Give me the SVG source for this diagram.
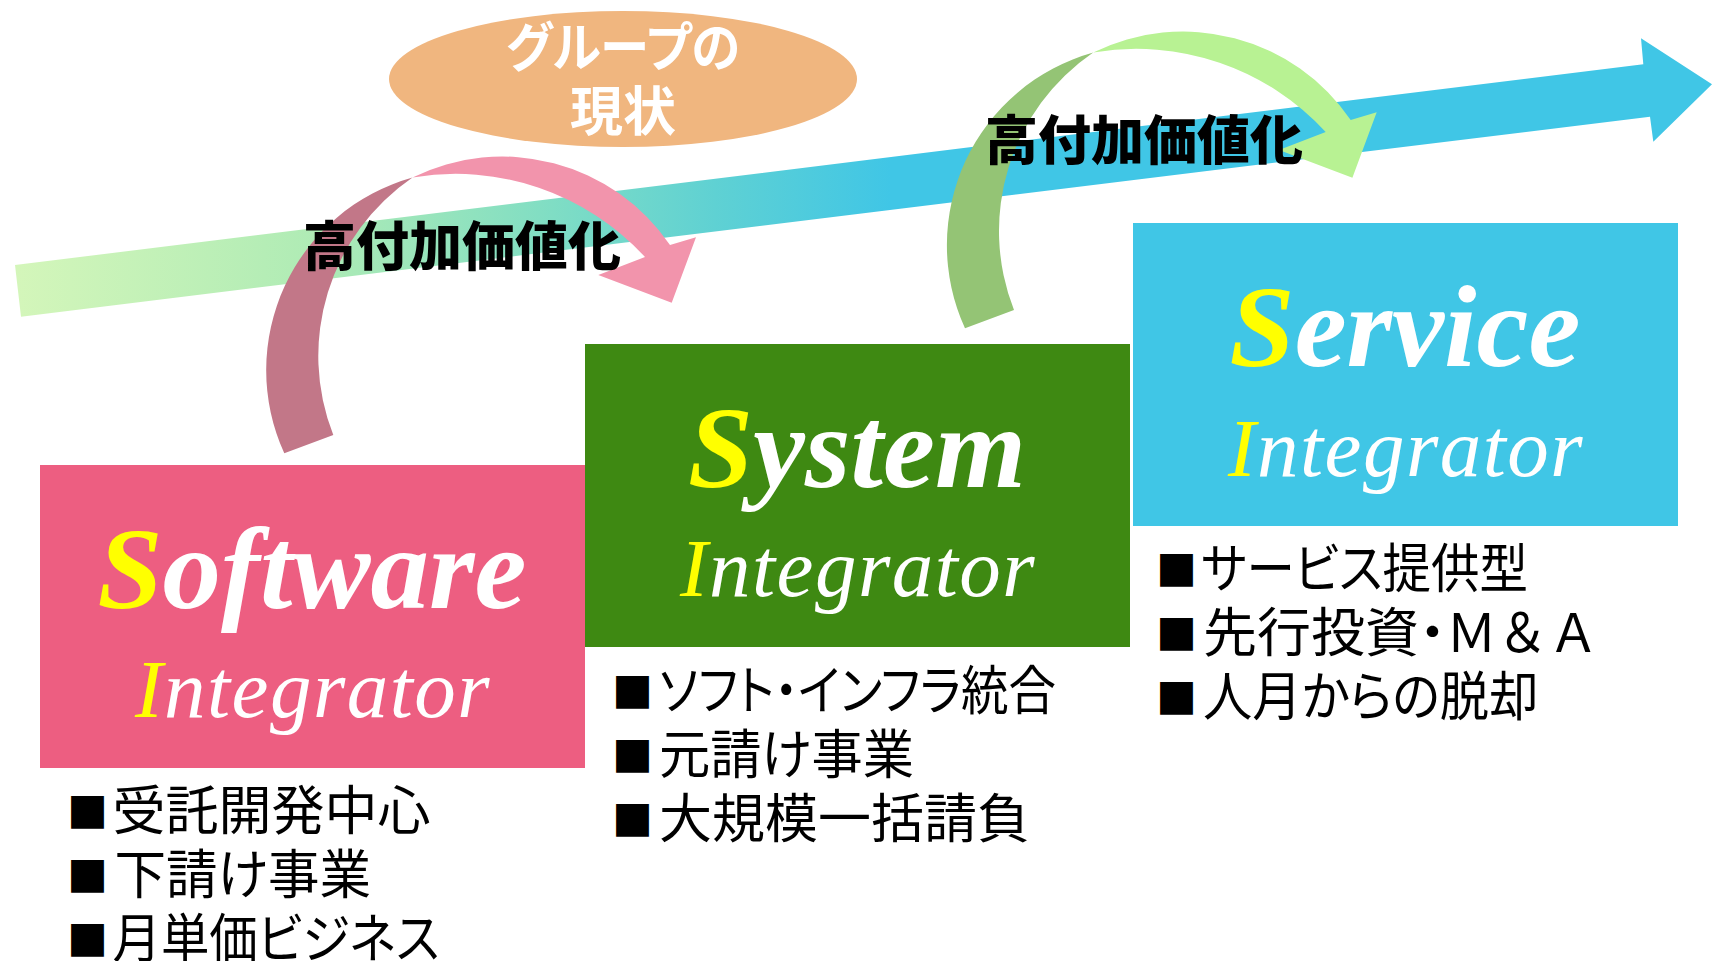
<svg xmlns="http://www.w3.org/2000/svg" width="1712" height="961" viewBox="0 0 1712 961">
<style>
.title{font-family:"Liberation Serif","Times New Roman",serif;font-style:italic;font-weight:bold;font-size:117px;fill:#FFFFFF;text-anchor:middle}
.integ{font-family:"Liberation Serif","Times New Roman",serif;font-style:italic;font-size:83px;letter-spacing:1.5px;fill:#FFFFFF;text-anchor:middle}
.cap{fill:#FFFF00}
.list{font-family:"Noto Sans CJK JP","Noto Sans CJK SC",sans-serif;font-size:53px;fill:#000000;font-feature-settings:"palt"}
.sq{font-size:41px}
.label{font-family:"Noto Sans CJK JP","Noto Sans CJK SC",sans-serif;font-weight:900;font-size:53px;fill:#000000;text-anchor:middle}
.oval{font-family:"Noto Sans CJK JP","Noto Sans CJK SC",sans-serif;font-weight:bold;font-size:53px;fill:#FFFFFF;text-anchor:middle;font-feature-settings:"palt"}
</style>
<defs>
<linearGradient id="bandGrad" gradientUnits="userSpaceOnUse" x1="15" y1="0" x2="890" y2="0">
<stop offset="0" stop-color="#D4F6BA"/>
<stop offset="0.35" stop-color="#AEEBB5"/>
<stop offset="0.6" stop-color="#82DEC3"/>
<stop offset="0.8" stop-color="#5FD1D3"/>
<stop offset="1" stop-color="#40C6E6"/>
</linearGradient>
<path id="crescent" d="M 284.3 453.3 A 200 200 0 0 1 412.5 177.5 A 216 216 0 0 0 333.3 435 Z"/>
<path id="curveBody" d="M 412.5 177.5 A 203 203 0 0 1 670 245 L 696 237.3 L 671.7 302.7 L 598.3 275 L 645 257 A 257.5 257.5 0 0 0 412.5 177.5 Z"/>
</defs>
<rect width="1712" height="961" fill="#FFFFFF"/>
<g id="connectors">
<path id="growth-arrow" d="M 15 265 L 1643.3 64.3 L 1641 38.3 L 1712 84.3 L 1653.3 141.7 L 1650 116.7 L 21 316.7 Z" fill="url(#bandGrad)"/>
<g id="curve-1">
<use href="#crescent" fill="#C27788"/>
<use href="#curveBody" fill="#F294AC"/>
</g>
<g id="curve-2" transform="translate(680.7,-125)">
<use href="#crescent" fill="#94C475"/>
<use href="#curveBody" fill="#B8F293"/>
</g>
</g>
<g id="current-state">
<ellipse cx="623" cy="79" rx="234" ry="68" fill="#F0B67F"/>
<text class="oval" x="623" y="67" textLength="234" lengthAdjust="spacingAndGlyphs">グループの</text>
<text class="oval" x="623" y="131">現状</text>
</g>
<g id="software-integrator">
<rect x="40" y="465" width="545" height="303" fill="#ED5E81"/>
<text class="title" x="312" y="608"><tspan class="cap">S</tspan>oftware</text>
<text class="integ" x="313" y="717"><tspan class="cap">I</tspan>ntegrator</text>
<text class="list"><tspan class="sq" x="67" y="827.5">■</tspan><tspan x="112.5" y="830">受託開発中心</tspan></text>
<text class="list"><tspan class="sq" x="67" y="891.5">■</tspan><tspan x="114.5" y="894" textLength="256.5" lengthAdjust="spacingAndGlyphs">下請け事業</tspan></text>
<text class="list"><tspan class="sq" x="67" y="955.5">■</tspan><tspan x="112.5" y="958" textLength="327" lengthAdjust="spacingAndGlyphs">月単価ビジネス</tspan></text>
</g>
<g id="system-integrator">
<rect x="585" y="344" width="545" height="303" fill="#3E8912"/>
<text class="title" x="857" y="487"><tspan class="cap">S</tspan>ystem</text>
<text class="integ" x="858" y="596"><tspan class="cap">I</tspan>ntegrator</text>
<text class="list"><tspan class="sq" x="612" y="707.5">■</tspan><tspan x="659" y="710" textLength="397" lengthAdjust="spacingAndGlyphs">ソフト・インフラ統合</tspan></text>
<text class="list"><tspan class="sq" x="612" y="771.5">■</tspan><tspan x="659" y="774" textLength="255" lengthAdjust="spacingAndGlyphs">元請け事業</tspan></text>
<text class="list"><tspan class="sq" x="612" y="835.5">■</tspan><tspan x="659" y="838">大規模一括請負</tspan></text>
</g>
<g id="service-integrator">
<rect x="1133" y="223" width="545" height="303" fill="#40C6E6"/>
<text class="title" x="1405" y="366"><tspan class="cap">S</tspan>ervice</text>
<text class="integ" x="1406" y="476"><tspan class="cap">I</tspan>ntegrator</text>
<text class="list"><tspan class="sq" x="1156" y="585.5">■</tspan><tspan x="1201" y="588" textLength="327" lengthAdjust="spacingAndGlyphs">サービス提供型</tspan></text>
<text class="list"><tspan class="sq" x="1156" y="649.5">■</tspan><tspan x="1203" y="652" textLength="243" lengthAdjust="spacingAndGlyphs">先行投資・</tspan><tspan x="1446" y="652" textLength="153" lengthAdjust="spacingAndGlyphs" style="font-feature-settings:normal">Ｍ＆Ａ</tspan></text>
<text class="list"><tspan class="sq" x="1156" y="713.5">■</tspan><tspan x="1203" y="716" textLength="335.5" lengthAdjust="spacingAndGlyphs">人月からの脱却</tspan></text>
</g>
<g id="labels">
<text class="label" x="462" y="266">高付加価値化</text>
<text class="label" x="1144" y="160">高付加価値化</text>
</g>
</svg>
